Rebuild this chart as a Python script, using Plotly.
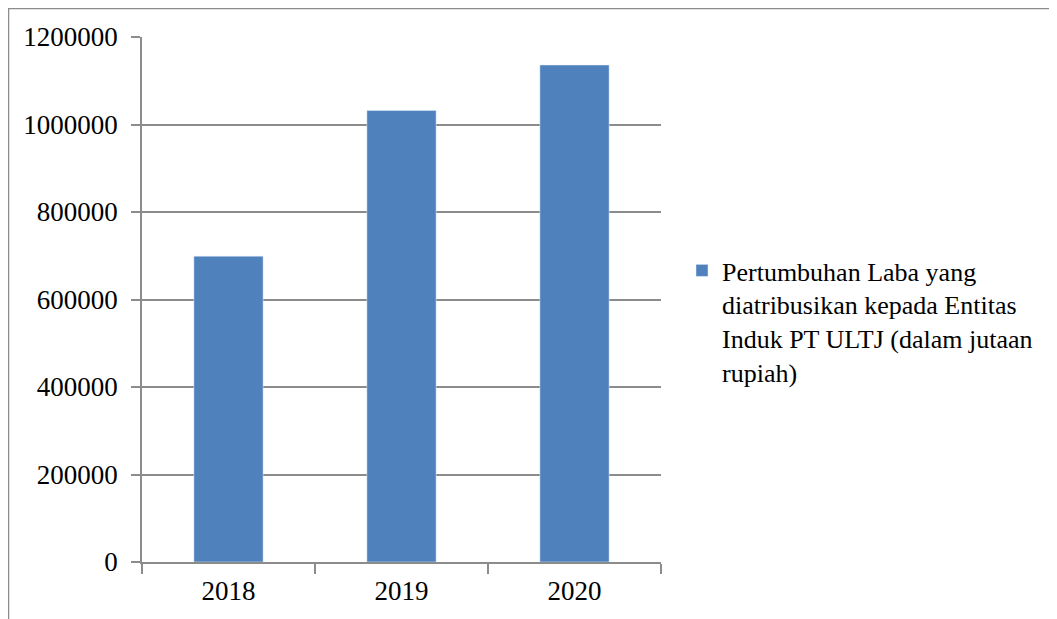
import plotly.graph_objects as go

years = ["2018", "2019", "2020"]
laba = [699000, 1032000, 1136000]
series_name = "Pertumbuhan Laba yang<br>diatribusikan kepada Entitas<br>Induk PT ULTJ (dalam jutaan<br>rupiah)"
y_ticks = [0, 200000, 400000, 600000, 800000, 1000000, 1200000]

FONT = "Liberation Serif"
GRID = "#8c8c8c"

fig = go.Figure()
fig.add_trace(go.Bar(x=years, y=laba, name=series_name, marker_color="#4F81BD",
                     showlegend=True))

# page body has an 8px margin, so the figure starts at (8, 8) on screen
OFF = 8
W, H = 1057 - OFF, 619 - OFF
L, R, T, B = 142 - OFF, 661 - OFF, 37 - OFF, 562 - OFF
fig.update_layout(
    width=W, height=H,
    margin=dict(l=L, r=W - R, t=T, b=H - B, pad=0),
    paper_bgcolor="white", plot_bgcolor="white",
    font=dict(family=FONT, size=27, color="black"),
    bargap=0.6,
    showlegend=True,
    legend=dict(x=(682 - OFF - L) / (R - L), y=(B - (247 - OFF)) / (B - T),
                xanchor="left", yanchor="top",
                valign="top", font=dict(family=FONT, size=26, color="black"),
                bgcolor="rgba(0,0,0,0)", tracegroupgap=0),
    xaxis=dict(showgrid=False, showline=True, linecolor=GRID, linewidth=1.5,
               ticks="outside", tickson="boundaries", ticklen=10, tickcolor=GRID,
               tickwidth=1.5, tickfont=dict(family=FONT, size=27, color="black"),
               ticklabelstandoff=4, zeroline=False),
    yaxis=dict(range=[0, 1200000], tickvals=y_ticks, tickformat="d",
               showgrid=True, gridcolor=GRID, gridwidth=1.5,
               showline=True, linecolor=GRID, linewidth=1.5,
               ticks="outside", ticklen=9, tickcolor=GRID, tickwidth=1.5,
               tickfont=dict(family=FONT, size=27, color="black"),
               ticklabelstandoff=8, zeroline=False),
)
# outer chart frame (partially visible)
fig.add_shape(type="rect", xref="paper", yref="paper",
              x0=(0.5 - L) / (R - L), x1=(1200 - L) / (R - L),
              y0=(B - 800) / (B - T), y1=(B - 0.5) / (B - T),
              line=dict(color="#8c8c8c", width=1.5), fillcolor="rgba(0,0,0,0)", layer="below")

fig.write_html("out.html")
